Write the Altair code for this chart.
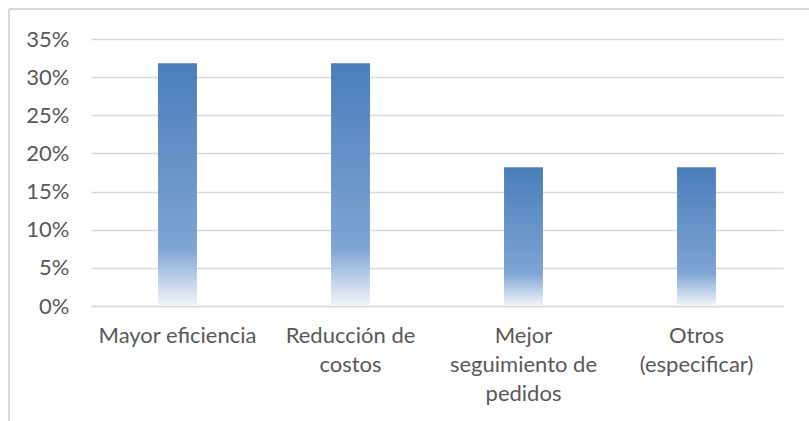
import altair as alt
import pandas as pd

# Share of responses per benefit category
categories = ["Mayor eficiencia", "Reducción de costos",
              "Mejor seguimiento de pedidos", "Otros (especificar)"]
label_lines = ["Mayor eficiencia", "Reducción de|costos",
               "Mejor|seguimiento de|pedidos", "Otros|(especificar)"]
shares = [7 / 22, 7 / 22, 4 / 22, 4 / 22]
y_ticks = [0, 0.05, 0.10, 0.15, 0.20, 0.25, 0.30, 0.35]

df = pd.DataFrame({"categoria": categories, "valor": shares, "etiqueta": label_lines})

label_map = "{" + ", ".join(f"'{c}': '{l}'" for c, l in zip(categories, label_lines)) + "}"

FONT = "Lato"
TEXT = "#595959"
GRID = "#d9d9d9"

fill = alt.Gradient(
    gradient="linear",
    x1=0, x2=0, y1=0, y2=1,
    stops=[
        alt.GradientStop(color="#4a7ebb", offset=0),
        alt.GradientStop(color="#7ea4d2", offset=0.76),
        alt.GradientStop(color="#f2f6fb", offset=1),
    ],
)

bars = alt.Chart(df).mark_bar(color=fill).encode(
    x=alt.X(
        "categoria:N",
        sort=categories,
        scale=alt.Scale(paddingInner=0.775, paddingOuter=0.3875),
        axis=alt.Axis(
            title=None,
            labelAngle=0,
            labelExpr=f"split({label_map}[datum.label], '|')",
            labelFont=FONT,
            labelFontSize=22,
            labelColor=TEXT,
            labelLineHeight=29,
            labelPadding=19,
            labelBaseline="top",
            ticks=False,
            domainColor=GRID,
            domainWidth=1.5,
            labelLimit=300,
        ),
    ),
    y=alt.Y(
        "valor:Q",
        scale=alt.Scale(domain=[0, 0.35], nice=False),
        axis=alt.Axis(
            title=None,
            values=y_ticks,
            format=".0%",
            labelFont=FONT,
            labelFontSize=22,
            labelColor=TEXT,
            labelPadding=22,
            ticks=False,
            domain=False,
            gridColor=GRID,
            gridWidth=1.5,
        ),
    ),
)

# Chart-area frame (top and left edges)
frame_top = alt.Chart(df).mark_rule(color="#d9d9d9", strokeWidth=2).encode(
    x=alt.value(-82), x2=alt.value(740), y=alt.value(-30)
)
frame_left = alt.Chart(df).mark_rule(color="#d9d9d9", strokeWidth=2).encode(
    x=alt.value(-82), y=alt.value(-30), y2=alt.value(400)
)

chart = alt.layer(bars, frame_top, frame_left).properties(
    width=692,
    height=267,
    padding={"left": 91, "top": 39, "right": 26, "bottom": 115},
    autosize=alt.AutoSizeParams(type="none"),
    background="white",
).configure_view(stroke=None)

chart.save("out.html", embed_options={"renderer": "svg", "actions": False})
